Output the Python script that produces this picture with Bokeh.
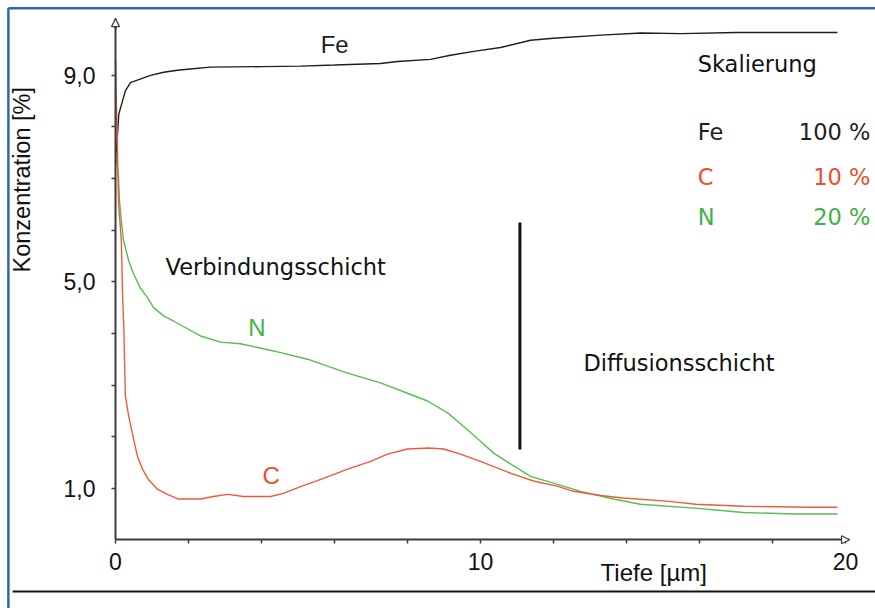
import math
from bokeh.plotting import figure
from bokeh.models import Range1d, FixedTicker, Label, Arrow, NormalHead
from bokeh.embed import file_html
from bokeh.resources import INLINE

# ---- data (depth in µm, scaled concentration) ----
fe_x = [0.0, 0.05, 0.09, 0.27, 0.41, 0.96, 1.32, 1.7, 1.97, 2.6, 4.0, 5.07, 6.0, 7.26, 7.73,
        8.63, 9.18, 9.86, 10.55, 11.37, 12.0, 13.3, 14.4, 15.5, 17.0, 19.78]
fe_y = [7.3, 7.8, 8.25, 8.7, 8.86, 9.0, 9.06, 9.1, 9.12, 9.16, 9.17, 9.18, 9.2, 9.23, 9.27,
        9.31, 9.39, 9.47, 9.54, 9.68, 9.72, 9.78, 9.82, 9.81, 9.83, 9.83]

c_x = [0.0, 0.02, 0.05, 0.08, 0.16, 0.19, 0.23, 0.25, 0.27, 0.36, 0.49, 0.60, 0.74, 0.90,
       1.15, 1.42, 1.73, 2.33, 2.68, 3.07, 3.51, 4.25, 4.6, 5.07, 5.70, 6.36, 6.99, 7.45,
       8.0, 8.58, 8.99, 9.45, 10.0, 10.47, 10.82, 11.0, 11.45, 12.1, 12.55, 13.29, 13.9,
       15.1, 15.9, 17.2, 18.96, 19.78]
c_y = [9.29, 8.5, 7.74, 6.57, 5.8, 4.83, 4.05, 3.37, 2.79, 2.40, 1.97, 1.62, 1.37, 1.17,
       0.98, 0.88, 0.79, 0.79, 0.84, 0.88, 0.84, 0.84, 0.90, 1.03, 1.19, 1.37, 1.52, 1.66,
       1.76, 1.78, 1.76, 1.66, 1.52, 1.39, 1.29, 1.25, 1.14, 1.04, 0.94, 0.86, 0.81,
       0.75, 0.69, 0.65, 0.63, 0.63]

n_x = [0.0, 0.08, 0.11, 0.16, 0.22, 0.36, 0.49, 0.68, 0.88, 1.04, 1.32, 1.59, 1.97, 2.33,
       2.88, 3.42, 4.33, 5.26, 6.36, 7.26, 8.0, 8.55, 9.10, 9.53, 10.0, 10.36, 10.82, 11.37,
       12.0, 12.74, 13.64, 14.38, 15.95, 17.2, 18.58, 19.78]
n_y = [7.54, 7.06, 6.57, 6.18, 5.80, 5.41, 5.16, 4.88, 4.69, 4.5, 4.34, 4.24, 4.09, 3.95,
       3.83, 3.80, 3.66, 3.50, 3.23, 3.04, 2.84, 2.69, 2.46, 2.20, 1.91, 1.68, 1.47, 1.23,
       1.10, 0.94, 0.79, 0.69, 0.61, 0.53, 0.50, 0.50]

divider_x = [11.08, 11.08]
divider_y = [1.75, 6.15]

x_ticks = list(range(0, 21, 2))
x_tick_labels = {0: "0", 10: "10", 20: "20"}
y_ticks = list(range(1, 10))
y_tick_labels = {1: "1,0", 5: "5,0", 9: "9,0"}

scale_elements = ["Fe", "C", "N"]
scale_values = ["100 %", "10 %", "20 %"]

# ---- styling ----
FE_COL = "#1e1e1e"
C_COL = "#ef5a38"
N_COL = "#55bf4f"
C_TXT = "#e8502a"
N_TXT = "#3fb145"
AX_COL = "#3c3c3c"
BLUE = "#3463b3"
SANS = "Liberation Sans"
GEO = "DejaVu Sans"

# frame covers the whole canvas; axes are pinned at x=0 / y=0
p = figure(width=875, height=608, output_backend="svg", toolbar_location=None,
           x_range=Range1d(-3.151, 20.822), y_range=Range1d(-1.331, 10.451),
           min_border=0)
p.outline_line_color = None
p.xgrid.visible = False
p.ygrid.visible = False
p.background_fill_color = "white"
p.border_fill_color = "white"

for ax in (p.xaxis[0], p.yaxis[0]):
    ax.fixed_location = 0
    ax.axis_line_color = AX_COL
    ax.axis_line_width = 2
    ax.major_tick_line_color = AX_COL
    ax.major_tick_line_width = 1.5
    ax.major_tick_in = 0
    ax.major_tick_out = 4
    ax.minor_tick_line_color = None
    ax.major_label_text_font = SANS
    ax.major_label_text_font_size = "23px"
    ax.major_label_text_color = "#111111"

p.xaxis.bounds = (0, 20.11)
p.xaxis.ticker = FixedTicker(ticks=x_ticks, minor_ticks=[])
p.xaxis.major_label_overrides = {t: x_tick_labels.get(t, "") for t in x_ticks}
p.xaxis.major_label_standoff = 9

p.yaxis.bounds = (0, 10.1)
p.yaxis.ticker = FixedTicker(ticks=y_ticks, minor_ticks=[])
p.yaxis.major_label_overrides = {t: y_tick_labels.get(t, "") for t in y_ticks}
p.yaxis.major_label_standoff = 16

# axis arrow heads
p.add_layout(Arrow(end=NormalHead(size=8, fill_color="white", line_color=AX_COL, line_width=1.2),
                   x_start=0, y_start=9.9, x_end=0, y_end=10.1,
                   line_color=AX_COL, line_width=2))
p.add_layout(Arrow(end=NormalHead(size=8, fill_color="white", line_color=AX_COL, line_width=1.2),
                   x_start=19.9, y_start=0, x_end=20.11, y_end=0,
                   line_color=AX_COL, line_width=2))

# curves
p.line(fe_x, fe_y, line_color=FE_COL, line_width=1.4)
p.line(n_x, n_y, line_color=N_COL, line_width=1.4)
p.line(c_x, c_y, line_color=C_COL, line_width=1.4)
p.line(divider_x, divider_y, line_color="#111111", line_width=3)

def lab(x, y, text, color="#111111", font=GEO, size="22.5px", align="left", angle=0.0):
    p.add_layout(Label(x=x, y=y, text=text, text_color=color, text_font=font,
                       text_font_size=size, text_align=align, text_baseline="alphabetic",
                       angle=angle))

lab(5.62, 9.595, "Fe", FE_COL, SANS, "24px")
lab(3.64, 4.115, "N", N_TXT, SANS, "24px")
lab(4.03, 1.245, "C", C_TXT, SANS, "24px")
lab(1.37, 5.295, "Verbindungsschicht")
lab(12.82, 3.435, "Diffusionsschicht")
lab(15.95, 9.215, "Skalierung")
leg_y = [7.895, 7.025, 6.265]
leg_col = [FE_COL, C_TXT, N_TXT]
for el, val, yy, col in zip(scale_elements, scale_values, leg_y, leg_col):
    lab(15.95, yy, el, col)
    lab(20.68, yy, val, col, align="right")

lab(-2.55, 5.18, "Konzentration [%]", "#111111", SANS, "23.5px", angle=math.pi / 2)
lab(13.29, -0.635, "Tiefe [µm]", "#111111", SANS, "24px")

# frame decoration (blue page border left/top, black rule at the bottom)
p.segment(x0=[-2.935, -2.935], y0=[-1.33, 10.30], x1=[-2.935, 20.82], y1=[10.30, 10.30],
          line_color=BLUE, line_width=2.5)
p.segment(x0=[-2.82], y0=[-1.0], x1=[20.82], y1=[-1.0], line_color="#111111", line_width=2)

open("out.html", "w").write(file_html(p, INLINE))
